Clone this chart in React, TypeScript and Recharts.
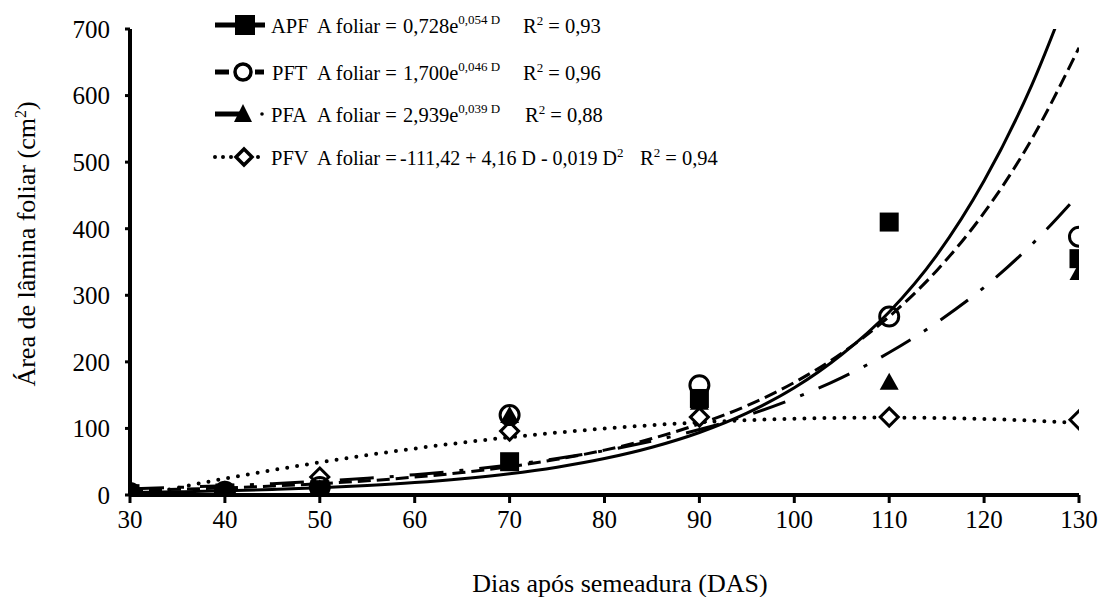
import React from 'react';
import { ComposedChart, Line, Scatter, XAxis, YAxis } from 'recharts';

// Fitted curve values (every 5 days)
const fitDays = [30, 35, 40, 45, 50, 55, 60, 65, 70, 75, 80, 85, 90, 95, 100, 105, 110, 115, 120, 125, 130];
const apfFit = [3.7, 4.8, 6.3, 8.3, 10.8, 14.2, 18.6, 24.4, 31.9, 41.8, 54.7, 71.7, 93.9, 123, 161, 211, 275, 360, 472, 615, 795];
const pftFit = [6.8, 8.5, 10.7, 13.5, 17, 21.3, 26.9, 33.8, 42.5, 53.6, 67.4, 84.8, 106.8, 134, 169, 213, 268, 337, 424, 534, 672];
const pfaFit = [9.5, 11.5, 14, 17, 20.7, 25.1, 30.5, 37.1, 45.1, 54.8, 66.6, 80.9, 98.3, 119.4, 145.2, 176.4, 214, 259, 312, 376, 452];
const pfvFit = [-3.7, 10.9, 24.6, 37.3, 49.1, 59.9, 69.8, 78.7, 86.7, 93.7, 99.8, 104.9, 109.1, 112.3, 114.6, 115.9, 116.3, 115.7, 114.2, 111.7, 108.3];

// Observed values
const obsDays = [30, 40, 50, 70, 90, 110, 130];
const apfObs = [2, 3, 8, 50, 145, 410, 355];
const pftObs = [3, 5, 12, 120, 165, 268, 388];
const pfaObs = [2, 4, 10, 120, 140, 170, 335];
const pfvObs = [3, 5, 27, 96, 117, 117, 113];

const xTicks = [30, 40, 50, 60, 70, 80, 90, 100, 110, 120, 130];
const yTicks = [0, 100, 200, 300, 400, 500, 600, 700];

const toPts = (xs: number[], ys: number[]) => xs.map((x, i) => ({ x, y: ys[i] }));

const FONT = '"Liberation Serif", Tinos, "Times New Roman", serif';

const Square = (p: any) => <rect x={p.cx - 9.5} y={p.cy - 9.5} width={19} height={19} fill="#000" />;
const Circ = (p: any) => <circle cx={p.cx} cy={p.cy} r={9.5} fill="none" stroke="#000" strokeWidth={3} />;
const Tri = (p: any) => (
  <polygon points={`${p.cx},${p.cy - 9} ${p.cx + 9.5},${p.cy + 8} ${p.cx - 9.5},${p.cy + 8}`} fill="#000" />
);
const Diam = (p: any) => (
  <polygon
    points={`${p.cx},${p.cy - 9} ${p.cx + 9},${p.cy} ${p.cx},${p.cy + 9} ${p.cx - 9},${p.cy}`}
    fill="#fff"
    stroke="#000"
    strokeWidth={3}
  />
);

const tickStyle = { fill: '#000', fontSize: 25, fontFamily: FONT, style: { fontFamily: FONT } };

export default function App() {
  const W = 1102;
  const H = 597;
  const rows = [25, 72, 114, 157];
  const mx = 245;
  const lx1 = 215;
  return (
    <div style={{ position: 'absolute', left: 0, top: 0, width: W, height: H, overflow: 'hidden' }}>
      <ComposedChart width={W} height={H} margin={{ top: 29, right: 23, left: 0, bottom: 62 }}>
        <XAxis
          dataKey="x"
          type="number"
          domain={[30, 130]}
          ticks={xTicks}
          interval={0}
          allowDataOverflow
          height={40}
          axisLine={{ stroke: '#000', strokeWidth: 4 }}
          tickLine={{ stroke: '#000', strokeWidth: 3 }}
          tickSize={8}
          tickMargin={7}
          tick={tickStyle}
        />
        <YAxis
          dataKey="y"
          type="number"
          domain={[0, 700]}
          ticks={yTicks}
          interval={0}
          allowDataOverflow
          width={130}
          axisLine={{ stroke: '#000', strokeWidth: 4 }}
          tickLine={{ stroke: '#000', strokeWidth: 3 }}
          tickSize={5}
          tickMargin={15}
          tick={tickStyle}
        />
        <Line data={toPts(fitDays, pfvFit)} dataKey="y" type="monotone" stroke="#000" strokeWidth={4} strokeDasharray="0 10" strokeLinecap="round" dot={false} isAnimationActive={false} />
        <Line data={toPts(fitDays, pfaFit)} dataKey="y" type="monotone" stroke="#000" strokeWidth={3} strokeDasharray="34 16 4 16" dot={false} isAnimationActive={false} />
        <Line data={toPts(fitDays, pftFit)} dataKey="y" type="monotone" stroke="#000" strokeWidth={3} strokeDasharray="13 6" dot={false} isAnimationActive={false} />
        <Line data={toPts(fitDays, apfFit)} dataKey="y" type="monotone" stroke="#000" strokeWidth={3} dot={false} isAnimationActive={false} />
        <Scatter data={toPts(obsDays, pfvObs)} dataKey="y" shape={Diam} isAnimationActive={false} />
        <Scatter data={toPts(obsDays, pfaObs)} dataKey="y" shape={Tri} isAnimationActive={false} />
        <Scatter data={toPts(obsDays, pftObs)} dataKey="y" shape={Circ} isAnimationActive={false} />
        <Scatter data={toPts(obsDays, apfObs)} dataKey="y" shape={Square} isAnimationActive={false} />
      </ComposedChart>
      <svg
        width={W}
        height={H}
        style={{ position: 'absolute', left: 0, top: 0, pointerEvents: 'none', fontFamily: FONT }}
      >
        {/* legend glyphs */}
        <line x1={lx1} x2={lx1 + 50} y1={rows[0]} y2={rows[0]} stroke="#000" strokeWidth={5} />
        <rect x={mx - 10} y={rows[0] - 10} width={20} height={20} fill="#000" />

        <line x1={lx1} x2={lx1 + 14} y1={rows[1]} y2={rows[1]} stroke="#000" strokeWidth={5} />
        <line x1={lx1 + 40} x2={lx1 + 49} y1={rows[1]} y2={rows[1]} stroke="#000" strokeWidth={5} />
        <circle cx={mx - 2} cy={rows[1]} r={8} fill="#fff" stroke="#000" strokeWidth={3.5} />

        <line x1={lx1} x2={lx1 + 25} y1={rows[2]} y2={rows[2]} stroke="#000" strokeWidth={5} />
        <polygon points={`${mx - 2},${rows[2] - 10} ${mx + 7},${rows[2] + 8} ${mx - 11},${rows[2] + 8}`} fill="#000" />
        <circle cx={lx1 + 47} cy={rows[2]} r={1.8} fill="#000" />

        <line x1={lx1} x2={lx1 + 21} y1={rows[3]} y2={rows[3]} stroke="#000" strokeWidth={4} strokeDasharray="0 8" strokeLinecap="round" />
        <line x1={lx1 + 43} x2={lx1 + 51} y1={rows[3]} y2={rows[3]} stroke="#000" strokeWidth={4} strokeDasharray="0 8" strokeLinecap="round" />
        <polygon
          points={`${mx - 1},${rows[3] - 8} ${mx + 7},${rows[3]} ${mx - 1},${rows[3] + 8} ${mx - 9},${rows[3]}`}
          fill="#fff"
          stroke="#000"
          strokeWidth={3.5}
        />

        {/* legend text */}
        <g fontSize={20.5} fill="#000">
          <text x={271} y={rows[0] + 8}>APF</text>
          <text x={317} y={rows[0] + 8}>A foliar =</text>
          <text x={403} y={rows[0] + 8}>
            0,728e<tspan dy={-9} fontSize={13}>0,054 D</tspan>
          </text>
          <text x={523} y={rows[0] + 8}>
            R<tspan dy={-8} fontSize={13}>2</tspan><tspan dy={8}> = 0,93</tspan>
          </text>

          <text x={272} y={rows[1] + 8}>PFT</text>
          <text x={317} y={rows[1] + 8}>A foliar =</text>
          <text x={403} y={rows[1] + 8}>
            1,700e<tspan dy={-9} fontSize={13}>0,046 D</tspan>
          </text>
          <text x={523} y={rows[1] + 8}>
            R<tspan dy={-8} fontSize={13}>2</tspan><tspan dy={8}> = 0,96</tspan>
          </text>

          <text x={271} y={rows[2] + 8}>PFA</text>
          <text x={317} y={rows[2] + 8}>A foliar =</text>
          <text x={403} y={rows[2] + 8}>
            2,939e<tspan dy={-9} fontSize={13}>0,039 D</tspan>
          </text>
          <text x={525} y={rows[2] + 8}>
            R<tspan dy={-8} fontSize={13}>2</tspan><tspan dy={8}> = 0,88</tspan>
          </text>

          <text x={271} y={rows[3] + 8}>PFV</text>
          <text x={317} y={rows[3] + 8}>A foliar =</text>
          <text x={400} y={rows[3] + 8} fontSize={20}>
            -111,42 + 4,16 D - 0,019 D<tspan dy={-8} fontSize={13}>2</tspan>
          </text>
          <text x={640} y={rows[3] + 8}>
            R<tspan dy={-8} fontSize={13}>2</tspan><tspan dy={8}> = 0,94</tspan>
          </text>
        </g>

        {/* axis titles */}
        <text x={620} y={592} textAnchor="middle" fontSize={26} fill="#000">
          Dias após semeadura (DAS)
        </text>
        <text x={35} y={244} textAnchor="middle" fontSize={26} fill="#000" transform="rotate(-90 35 244)">
          Área de lâmina foliar (cm<tspan dy={-9} fontSize={16}>2</tspan><tspan dy={9}>)</tspan>
        </text>
      </svg>
    </div>
  );
}
